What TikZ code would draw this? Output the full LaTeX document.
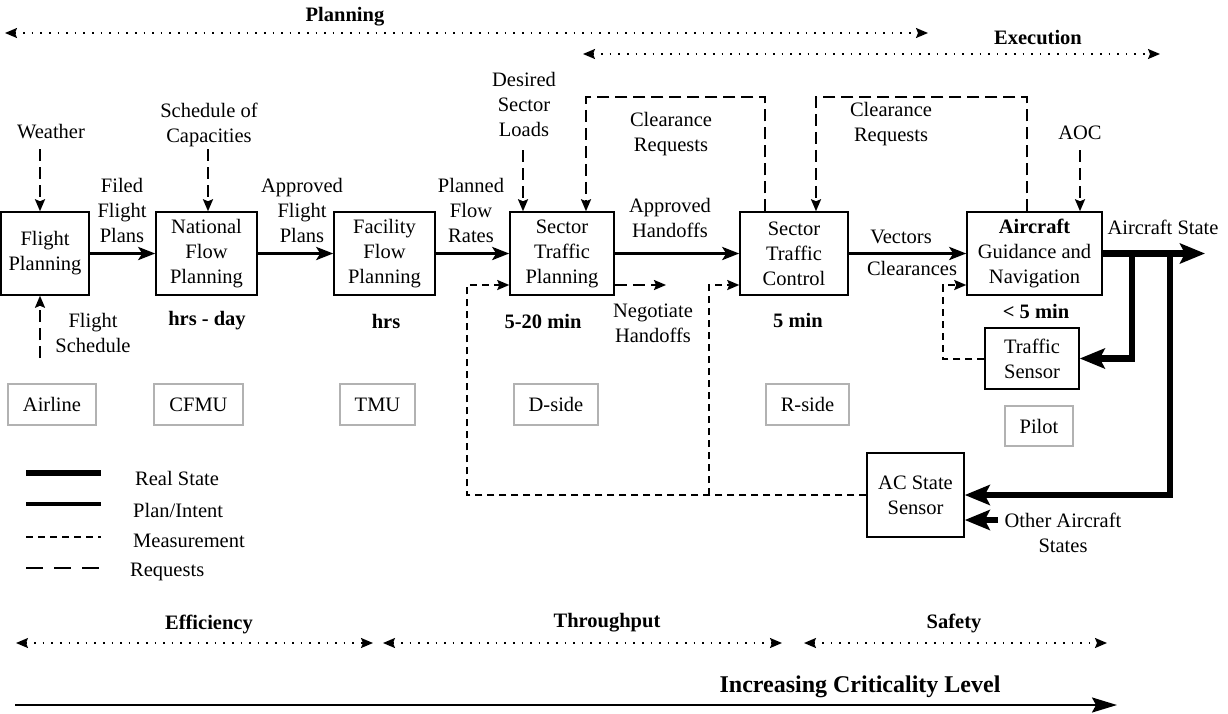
\documentclass[tikz,border=0pt]{standalone}
\usepackage{fontspec}
\setmainfont{Liberation Serif}
\usetikzlibrary{arrows.meta}
\begin{document}
\begin{tikzpicture}[x=1pt,y=-1pt,
  every node/.style={font=\fontsize{20.5}{25}\selectfont, inner sep=0pt, align=center},
  box/.style={draw, line width=1.5pt, minimum height=83pt},
  orgbox/.style={draw=black!30, line width=1.5pt, minimum height=41pt},
  planarr/.style={line width=3.5pt, -{Stealth[length=17pt,width=13pt,inset=4pt]}},
  realline/.style={line width=6.5pt, line join=miter},
  realarr/.style={realline, -{Stealth[length=25pt,width=20pt,inset=5pt]}},
  measline/.style={line width=2pt, dash pattern=on 7pt off 5pt},
  reqline/.style={line width=2pt, dash pattern=on 12pt off 6pt},
  dtip/.style={-{Stealth[length=12pt,width=10pt,inset=2pt]}},
  dotarr/.style={line width=1.6pt, dash pattern=on 1.6pt off 7pt,
    {Stealth[length=12pt,width=10pt,inset=2pt]}-{Stealth[length=12pt,width=10pt,inset=2pt]}},
  bl/.style={font=\fontsize{20.5}{25}\selectfont\bfseries}
]
\useasboundingbox (0,0) rectangle (1228,713);

% phase arrows
\node[bl] (planlbl) at (345,17) {Planning};
\coordinate (pl1) at (5,33); \coordinate (pl2) at (928,33);
\draw[dotarr] (pl1) -- (pl2);
\node[bl] (execlbl) at (1038,38) {Execution};
\coordinate (ex1) at (583,54); \coordinate (ex2) at (1160,54);
\draw[dotarr] (ex1) -- (ex2);

% main boxes
\node[box, minimum width=88pt] (fp) at (45,253.5) {Flight\\Planning};
\node[box, minimum width=101pt] (nfp) at (206.5,253.5) {National\\Flow\\Planning};
\node[box, minimum width=101pt] (ffp) at (384.5,253.5) {Facility\\Flow\\Planning};
\node[box, minimum width=104pt] (stp) at (562,253.5) {Sector\\Traffic\\Planning};
\node[box, minimum width=108pt] (stc) at (794,253.5) {Sector\\Traffic\\Control};
\node[box, minimum width=135pt] (acg) at (1034.5,253.5) {\textbf{Aircraft}\\Guidance and\\Navigation};
\node[box, minimum width=94pt, minimum height=61pt] (ts) at (1032,358.5) {Traffic\\Sensor};
\node[box, minimum width=97pt, minimum height=84pt] (acs) at (915.5,495) {AC State\\Sensor};

% organisation boxes
\node[orgbox, minimum width=88pt] (airline) at (52,404.5) {Airline};
\node[orgbox, minimum width=89pt] (cfmu) at (198.5,404.5) {CFMU};
\node[orgbox, minimum width=75pt] (tmu) at (377.5,404.5) {TMU};
\node[orgbox, minimum width=84pt] (dside) at (556,404.5) {D-side};
\node[orgbox, minimum width=83pt] (rside) at (807.5,404.5) {R-side};
\node[orgbox, minimum width=68pt, minimum height=40pt] (pilot) at (1039,426) {Pilot};

% plan arrows
\draw[planarr] (fp.east) -- (nfp.west);
\draw[planarr] (nfp.east) -- (ffp.west);
\draw[planarr] (ffp.east) -- (stp.west);
\draw[planarr] (stp.east) -- (stc.west);
\draw[planarr] (stc.east) -- (acg.west);

\node (l1) at (122,210) {Filed\\Flight\\Plans};
\node (l2) at (302,210) {Approved\\Flight\\Plans};
\node (l3) at (471,210) {Planned\\Flow\\Rates};
\node (l4) at (670,217.5) {Approved\\Handoffs};
\node (l5) at (901,237) {Vectors};
\node (l6) at (912,268) {Clearances};
\node (l7) at (1163,227) {Aircraft State};

% inputs
\node (weather) at (51,132) {Weather};
\coordinate (w1) at (40,149);
\draw[reqline, dtip] (w1) -- (fp.north -| w1);
\node (soc) at (209,124.5) {Schedule of\\Capacities};
\coordinate (s1) at (208,149);
\draw[reqline, dtip] (s1) -- (nfp.north -| s1);
\node (dsl) at (524,104.5) {Desired\\Sector\\Loads};
\coordinate (d1) at (523,150);
\draw[reqline, dtip] (d1) -- (stp.north -| d1);
\node (aoc) at (1080,133) {AOC};
\coordinate (a1) at (1080,150);
\draw[reqline, dtip] (a1) -- (acg.north -| a1);
\node (fs) at (93,333) {Flight\\Schedule};
\coordinate (f1) at (40,358);
\draw[reqline, dtip] (f1) -- (fp.south -| f1);

% clearance request loops
\coordinate (r1a) at (765,97); \coordinate (r1b) at (586,97);
\draw[reqline, dtip] (stc.north -| r1a) -- (r1a) -- (r1b) -- (stp.north -| r1b);
\node (cr1) at (671,134.5) {Clearance\\Requests};
\coordinate (r2a) at (1027,97); \coordinate (r2b) at (816,97);
\draw[reqline, dtip] (acg.north -| r2a) -- (r2a) -- (r2b) -- (stc.north -| r2b);
\node (cr2) at (891,124.5) {Clearance\\Requests};

% timescales
\node[bl] (t1) at (207,321) {hrs - day};
\node[bl] (t2) at (386,321) {hrs};
\node[bl] (t3) at (543,321) {5-20 min};
\node[bl] (t4) at (798,320) {5 min};
\node[bl] (t5) at (1036,311) {< 5 min};

% measurement loops
\coordinate (m1) at (467,495); \coordinate (m2) at (467,285);
\draw[measline, dtip] (acs.west) -- (m1) -- (m2) -- (stp.west |- m2);
\coordinate (m3) at (709,495); \coordinate (m4) at (709,285);
\draw[measline, dtip] (m3) -- (m4) -- (stc.west |- m4);
\coordinate (n1) at (666,285);
\draw[reqline, dtip] (stp.east |- n1) -- (n1);
\node (neg) at (653,323) {Negotiate\\Handoffs};
\coordinate (m5) at (943,358.5); \coordinate (m6) at (943,285);
\draw[measline, dtip] (ts.west) -- (m5) -- (m6) -- (acg.west |- m6);

% real state
\coordinate (out) at (1205,253.5);
\draw[realarr] (acg.east) -- (out);
\coordinate (j1) at (1132,253.5);
\draw[realarr] (j1) |- (ts.east);
\coordinate (j2) at (1170,250.25);
\draw[realarr] (j2) |- (acs.east);
\coordinate (oa) at (998,520);
\draw[realarr] (oa) -- (acs.east |- oa);
\node (oas) at (1063,532.5) {Other Aircraft\\States};

% legend
\coordinate (lg1a) at (26,473); \coordinate (lg1b) at (101,473);
\draw[realline, line width=6pt] (lg1a) -- (lg1b);
\node[anchor=west] (lgt1) at (135,478) {Real State};
\coordinate (lg2a) at (26,504); \coordinate (lg2b) at (101,504);
\draw[line width=3.5pt] (lg2a) -- (lg2b);
\node[anchor=west] (lgt2) at (133,510) {Plan/Intent};
\coordinate (lg3a) at (26,537); \coordinate (lg3b) at (101,537);
\draw[measline] (lg3a) -- (lg3b);
\node[anchor=west] (lgt3) at (133,541) {Measurement};
\coordinate (lg4a) at (26,568); \coordinate (lg4b) at (101,568);
\draw[reqline, dash pattern=on 17pt off 11pt] (lg4a) -- (lg4b);
\node[anchor=west] (lgt4) at (130,572) {Requests};

% criticality
\node[bl] (eff) at (209,624) {Efficiency};
\coordinate (e1) at (16,643); \coordinate (e2) at (373,643);
\draw[dotarr] (e1) -- (e2);
\node[bl] (thr) at (607,623) {Throughput};
\coordinate (t6) at (383,643); \coordinate (t7) at (782,643);
\draw[dotarr] (t6) -- (t7);
\node[bl] (saf) at (954,623) {Safety};
\coordinate (s6) at (804,643); \coordinate (s7) at (1107,643);
\draw[dotarr] (s6) -- (s7);
\node[font=\fontsize{24}{28}\selectfont\bfseries] (icl) at (860,687) {Increasing Criticality Level};
\coordinate (b1) at (15,705); \coordinate (b2) at (1117,705);
\draw[line width=2.2pt, -{Stealth[length=25pt,width=15pt,inset=4pt]}] (b1) -- (b2);
\end{tikzpicture}
\end{document}
